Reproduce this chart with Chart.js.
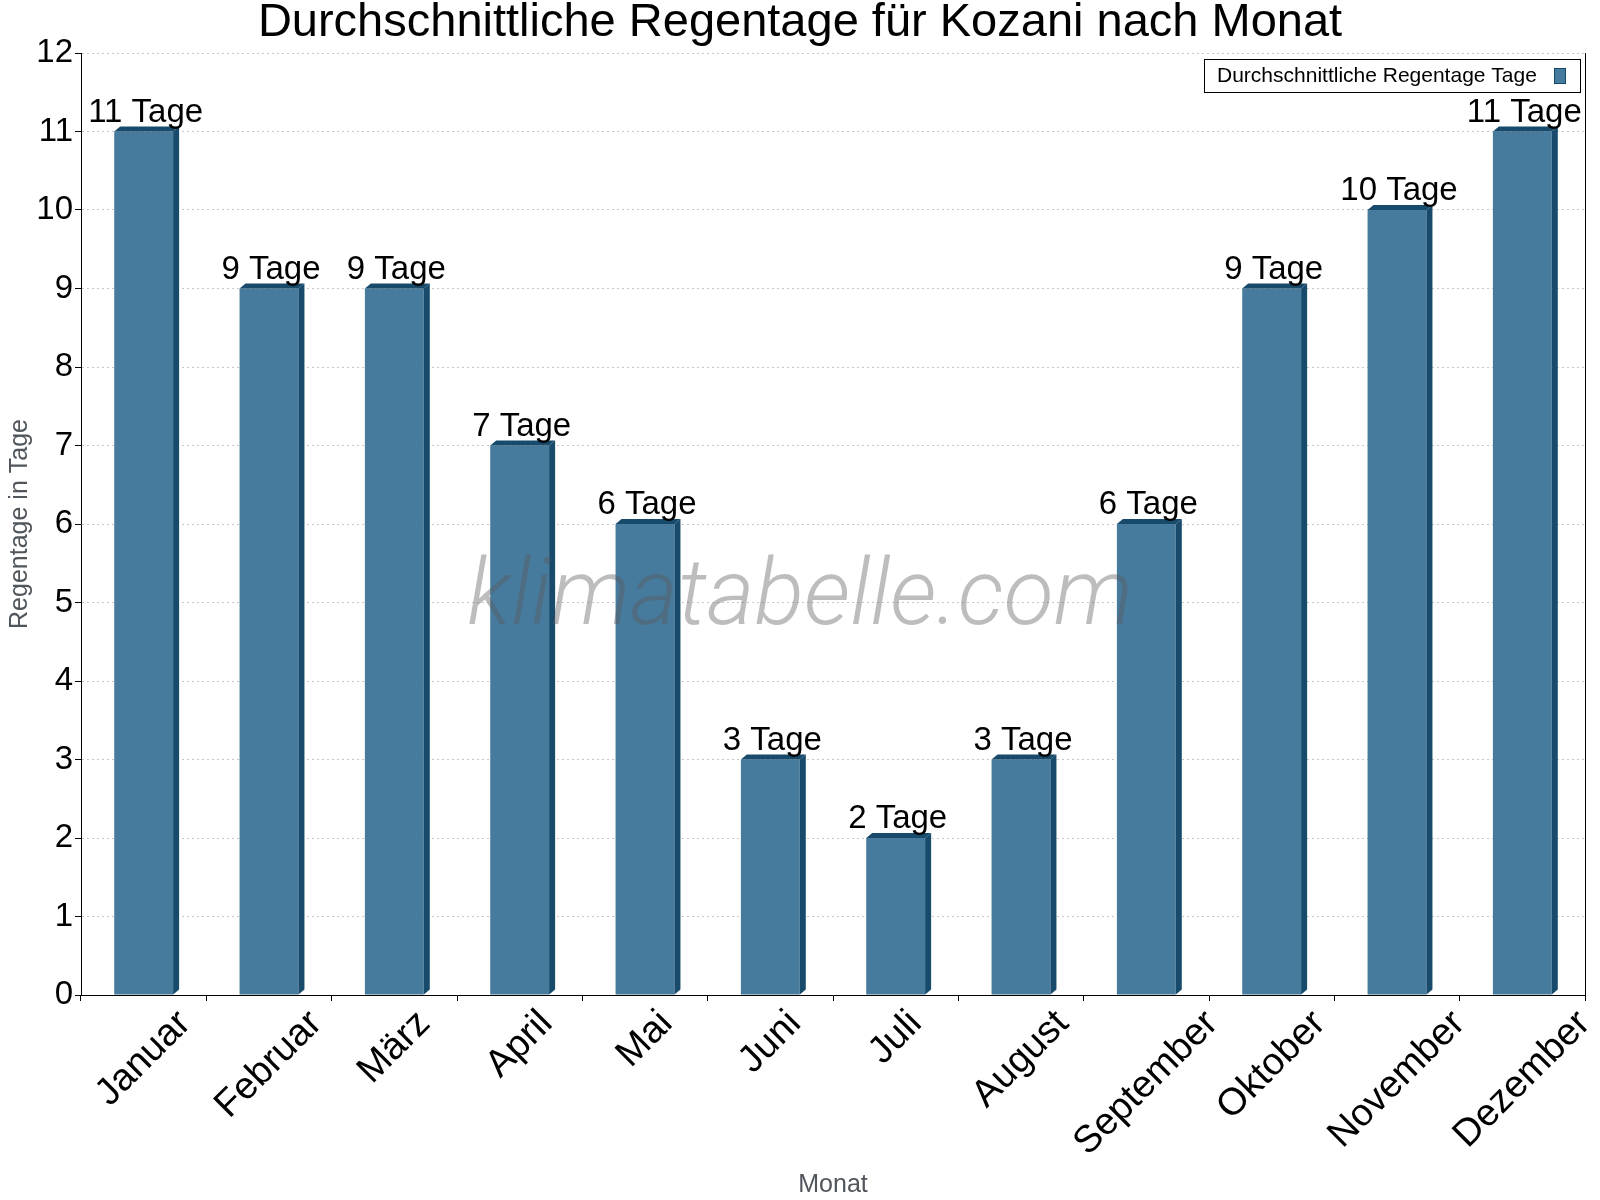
<!DOCTYPE html>
<html>
<head>
<meta charset="utf-8">
<script src="https://cdn.jsdelivr.net/npm/chart.js@4.4.1/dist/chart.umd.min.js"></script>
<style>
  html, body { margin: 0; padding: 0; background: #fff; }
</style>
</head>
<body>
<canvas id="regenChart" width="1600" height="1200"></canvas>
<script>
// Daten
const monate = ['Januar', 'Februar', 'März', 'April', 'Mai', 'Juni', 'Juli', 'August', 'September', 'Oktober', 'November', 'Dezember'];
const regentage = [11, 9, 9, 7, 6, 3, 2, 3, 6, 9, 10, 11];
const yMin = 0;
const yMax = 12;
const einheit = 'Tage';

const FONT = '"Liberation Sans", Arial, sans-serif';
const farbeFront = '#477b9d';
const farbeDunkel = '#174a6b';
const tiefeX = 6, tiefeY = 5;

// 3D-Effekt: Seite und Deckel der Balken
const balken3d = {
    id: 'balken3d',
    afterDatasetsDraw(chart) {
        const ctx = chart.ctx;
        const meta = chart.getDatasetMeta(0);
        ctx.save();
        ctx.fillStyle = farbeDunkel;
        meta.data.forEach(bar => {
            const { x, y, base, width } = bar.getProps(['x', 'y', 'base', 'width'], true);
            const l = x - width / 2, r = x + width / 2;
            // Deckel
            ctx.beginPath();
            ctx.moveTo(l, y);
            ctx.lineTo(l + tiefeX, y - tiefeY);
            ctx.lineTo(r + tiefeX, y - tiefeY);
            ctx.lineTo(r, y);
            ctx.closePath();
            ctx.fill();
            // Seite
            ctx.beginPath();
            ctx.moveTo(r, y);
            ctx.lineTo(r + tiefeX, y - tiefeY);
            ctx.lineTo(r + tiefeX, base - tiefeY);
            ctx.lineTo(r, base);
            ctx.closePath();
            ctx.fill();
        });
        ctx.restore();
    }
};

// Wasserzeichen + Werte über den Balken
const beschriftung = {
    id: 'beschriftung',
    afterDatasetsDraw(chart) {
        const ctx = chart.ctx;
        ctx.save();
        ctx.font = 'italic 300 92px Roboto, ' + FONT;
        ctx.fillStyle = 'rgba(90, 90, 90, 0.4)';
        ctx.textAlign = 'center';
        ctx.textBaseline = 'alphabetic';
        ctx.fillText('klimatabelle.com', chart.width / 2, 624);

        const meta = chart.getDatasetMeta(0);
        ctx.font = '33px ' + FONT;
        ctx.fillStyle = '#000';
        meta.data.forEach((bar, i) => {
            const v = chart.data.datasets[0].data[i];
            ctx.fillText(v + ' ' + einheit, bar.x + 2, bar.y - 10);
        });
        ctx.restore();
    },
    afterDraw(chart) {
        const ctx = chart.ctx;
        const area = chart.chartArea;
        const xs = chart.scales.x;
        ctx.save();

        // rechter Rahmen
        ctx.strokeStyle = '#000';
        ctx.lineWidth = 1;
        ctx.beginPath();
        ctx.moveTo(Math.round(area.right) + 0.5, area.top);
        ctx.lineTo(Math.round(area.right) + 0.5, area.bottom);
        ctx.stroke();

        // Monatsnamen, 45° gedreht um die Mitte
        const fs = 38;
        ctx.font = fs + 'px ' + FONT;
        ctx.fillStyle = '#000';
        ctx.textAlign = 'center';
        ctx.textBaseline = 'middle';
        monate.forEach((m, i) => {
            const cx = xs.getPixelForValue(i);
            const w = ctx.measureText(m).width;
            const h = fs * 0.72;
            const cy = area.bottom + 13 + (w + h) / (2 * Math.SQRT2);
            ctx.save();
            ctx.translate(cx, cy);
            ctx.rotate(-Math.PI / 4);
            ctx.fillText(m, 0, 0);
            ctx.restore();
        });

        // Legende rechts oben mit Rahmen
        const ds = chart.data.datasets[0];
        const lr = area.right - 5, lt = area.top + 6;
        const lw = 376, lh = 33;
        const ll = lr - lw;
        ctx.fillStyle = '#fff';
        ctx.fillRect(ll, lt, lw, lh);
        ctx.strokeStyle = '#000';
        ctx.strokeRect(Math.round(ll) + 0.5, Math.round(lt) + 0.5, lw, lh);
        ctx.font = '21px ' + FONT;
        ctx.fillStyle = '#000';
        ctx.textAlign = 'left';
        ctx.textBaseline = 'middle';
        ctx.fillText(ds.label, ll + 13, lt + lh / 2 + 1);
        ctx.fillStyle = farbeFront;
        ctx.fillRect(lr - 26, lt + 9, 11, 15);
        ctx.strokeStyle = farbeDunkel;
        ctx.strokeRect(lr - 26 + 0.5, lt + 9 + 0.5, 11, 15);
        ctx.restore();
    }
};

new Chart(document.getElementById('regenChart'), {
    type: 'bar',
    data: {
        labels: monate,
        datasets: [{
            label: 'Durchschnittliche Regentage Tage',
            data: regentage,
            backgroundColor: farbeFront,
            borderWidth: 0,
            barPercentage: 0.47,
            categoryPercentage: 1.0
        }]
    },
    options: {
        responsive: false,
        animation: false,
        layout: { padding: 0 },
        plugins: {
            legend: { display: false },
            tooltip: { enabled: false },
            title: {
                display: true,
                text: 'Durchschnittliche Regentage für Kozani nach Monat',
                color: '#000',
                font: { family: FONT, size: 47, weight: 'normal', lineHeight: 1 },
                padding: { top: 0, bottom: 6 }
            }
        },
        scales: {
            x: {
                offset: true,
                grid: { display: true, drawOnChartArea: false, offset: true, tickLength: 6, tickColor: '#000', color: '#000' },
                border: { color: '#000', width: 1 },
                ticks: { display: false },
                title: {
                    display: true,
                    text: 'Monat',
                    color: '#50565c',
                    font: { family: FONT, size: 25, lineHeight: 1.2 },
                    padding: { top: 1, bottom: 0 }
                },
                afterFit(scale) { scale.height = 205; }
            },
            y: {
                min: yMin,
                max: yMax,
                ticks: {
                    stepSize: 1,
                    color: '#000',
                    padding: 2,
                    font: { family: FONT, size: 33 }
                },
                grid: { color: '#c8c8c8', tickColor: '#000', tickLength: 6, lineWidth: 1 },
                border: { color: '#000', width: 1, dash: [2, 3] },
                title: {
                    display: true,
                    text: 'Regentage in Tage',
                    color: '#50565c',
                    font: { family: FONT, size: 25, lineHeight: 1.2 },
                    padding: { top: 5, bottom: 0 }
                },
                afterFit(scale) { scale.width = 81; }
            },
            // leerer Rand rechts, damit der Titel mittig über der ganzen Fläche bleibt
            rechts: {
                position: 'right',
                min: yMin,
                max: yMax,
                ticks: { display: false },
                grid: { display: false },
                border: { display: false },
                afterFit(scale) { scale.width = 15; }
            }
        }
    },
    plugins: [balken3d, beschriftung]
});
</script>
</body>
</html>
